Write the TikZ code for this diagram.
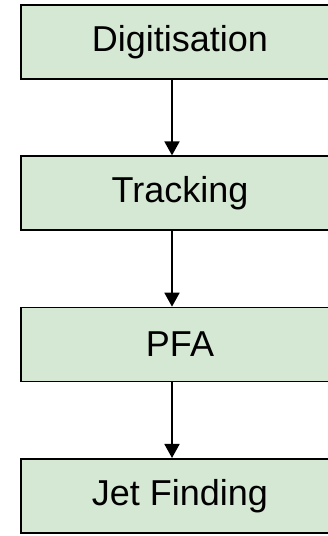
\documentclass[tikz,border=0pt]{standalone}
\usepackage{fontspec}
\setmainfont{Liberation Sans}
\usetikzlibrary{positioning}
\usetikzlibrary{arrows.meta}

\definecolor{stagegreen}{HTML}{D5E8D4}

\begin{document}
\begin{tikzpicture}[x=1pt, y=1pt, every node/.style={draw=black, line width=1.8pt, fill=stagegreen, minimum width=318pt, minimum height=74pt, inner sep=0pt, font=\fontsize{36}{40}\selectfont}, node distance=75.5pt, flow/.style={line width=1.8pt, -{Triangle[width=15pt,length=14pt]}}]
  \useasboundingbox (0,0) rectangle (327,536);
  \node(digit) at (180,494) {Digitisation};
  \node(track) [below=of digit] {Tracking};
  \node(pfa) [below=of track] {PFA};
  \node(jets) [below=of pfa] {Jet Finding};
  % flow between the stages, a little left of the box centres
  \draw[flow] ([xshift=-8pt]digit.south) -- ([xshift=-8pt]track.north);
  \draw[flow] ([xshift=-8pt]track.south) -- ([xshift=-8pt]pfa.north);
  \draw[flow] ([xshift=-8pt]pfa.south) -- ([xshift=-8pt]jets.north);
\end{tikzpicture}
\end{document}
